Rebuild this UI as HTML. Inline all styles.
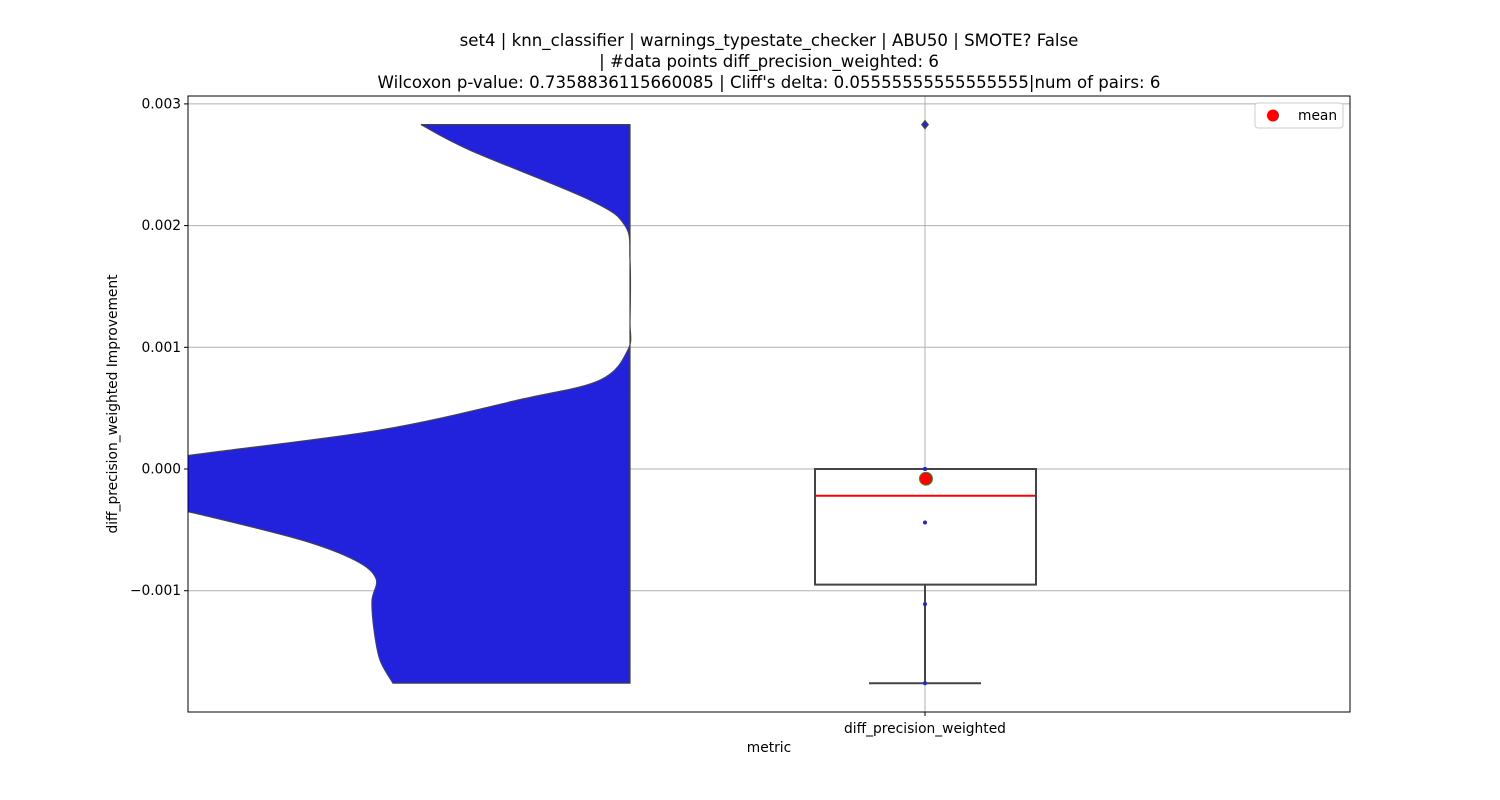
<!DOCTYPE html>
<html><head><meta charset="utf-8"><style>
body{margin:0;background:#fff;}
svg{display:block;font-family:"DejaVu Sans","Liberation Sans",sans-serif;}
</style></head><body>
<svg id="chart" width="1500" height="800">
<rect width="1500" height="800" fill="#fff"/>
<g id="title" font-size="16.6" text-anchor="middle" fill="#000">
<text x="769" y="46">set4 | knn_classifier | warnings_typestate_checker | ABU50 | SMOTE? False</text>
<text x="769" y="67">| #data points diff_precision_weighted: 6</text>
<text x="769" y="88">Wilcoxon p-value: 0.7358836115660085 | Cliff's delta: 0.05555555555555555|num of pairs: 6</text>
</g>
<defs><clipPath id="clip"><rect x="188" y="96" width="1162" height="616"/></clipPath></defs>
<g id="grid"></g>
<g id="plot" clip-path="url(#clip)"></g>
<rect x="188" y="96" width="1162" height="616" fill="none" stroke="#000" stroke-width="1"/>
<g id="yticks" font-size="13.8" text-anchor="end"></g>
<text x="925" y="733" font-size="13.8" text-anchor="middle">diff_precision_weighted</text>
<line x1="925" y1="712" x2="925" y2="716" stroke="#000"/>
<text x="769" y="752" font-size="13.8" text-anchor="middle">metric</text>
<text transform="translate(117,404) rotate(-90)" font-size="13.8" text-anchor="middle">diff_precision_weighted Improvement</text>
<g>
<rect x="1255" y="103" width="88" height="25" rx="3" fill="#fff" stroke="#ccc"/>
<circle cx="1273" cy="115.5" r="6" fill="#ff0000"/>
<text x="1298" y="120" font-size="13.8">mean</text>
</g>
</svg>
<script>
const yTicks=[0.003,0.002,0.001,0,-0.001];
const yTickLabels=["0.003","0.002","0.001","0.000","\u22120.001"];
const points=[0.00283,0,0,-0.00044,-0.00111,-0.00176];
const q1=-0.00095, q3=0, median=-0.00022, whiskerLow=-0.00176, meanVal=-0.00008, outliers=[0.00283];
const violinVals=[0.00283,0.00262,0.00221,0.0020,0.00172,0.00122,0.00098,0.00073,0.00057,0.00032,0.00011,0,-0.00017,-0.00035,-0.00058,-0.00075,-0.0009,-0.00108,-0.00132,-0.00157,-0.00176];
const violinDens=[0.836,0.64,0.16,0.02,0,0,0.008,0.12,0.44,1.0,1.768,2.08,2.16,1.768,1.32,1.1,1.016,1.032,1.024,1.0,0.948];
const NS="http://www.w3.org/2000/svg";
const y=v=>469-v/0.001*121.7;
const dx=d=>630-d*250;
function mk(tag,attrs,parent){const e=document.createElementNS(NS,tag);for(const k in attrs)e.setAttribute(k,attrs[k]);parent.appendChild(e);return e;}
const grid=document.getElementById('grid'),plot=document.getElementById('plot'),yt=document.getElementById('yticks');
yTicks.forEach((t,i)=>{
 const l=mk('line',{x1:188,x2:1350,y1:y(t),y2:y(t),stroke:'#b0b0b0','stroke-width':1},grid);
 
 
 mk('line',{x1:184,x2:188,y1:y(t),y2:y(t),stroke:'#000'},yt);
 const tx=mk('text',{x:181,y:y(t)+4.5},yt);tx.textContent=yTickLabels[i];
 
 
});
const vl=mk('line',{x1:925,x2:925,y1:96,y2:712,stroke:'#b0b0b0'},grid);


const pts=violinVals.map((v,i)=>[dx(violinDens[i]),y(v)]);
let d='M630,'+pts[0][1]+' L'+pts[0][0]+','+pts[0][1];
for(let i=0;i<pts.length-1;i++){
 const p0=pts[Math.max(0,i-1)],p1=pts[i],p2=pts[i+1],p3=pts[Math.min(pts.length-1,i+2)];
 const c1=[p1[0]+(p2[0]-p0[0])/6,p1[1]+(p2[1]-p0[1])/6];
 const c2=[p2[0]-(p3[0]-p1[0])/6,p2[1]-(p3[1]-p1[1])/6];
 d+=` C${c1[0]},${c1[1]} ${c2[0]},${c2[1]} ${p2[0]},${p2[1]}`;
}
d+=' L630,'+pts[pts.length-1][1]+' Z';
const vp=mk('path',{d:d,fill:'#2222dd',stroke:'#444','stroke-width':1.2},plot);


const wl=mk('line',{x1:925,x2:925,y1:y(q1),y2:y(whiskerLow),stroke:'#444','stroke-width':2},plot);


const cap=mk('line',{x1:869,x2:981,y1:y(whiskerLow),y2:y(whiskerLow),stroke:'#444','stroke-width':2},plot);


const box=mk('rect',{x:815,width:221,y:y(q3),height:y(q1)-y(q3),fill:'#fff',stroke:'#444','stroke-width':2},plot);


const med=mk('line',{x1:816,x2:1035,y1:y(median),y2:y(median),stroke:'#ff0000','stroke-width':2},plot);


outliers.forEach(o=>{
 const p=mk('path',{d:`M925,${y(o)-5} L929,${y(o)} L925,${y(o)+5} L921,${y(o)} Z`,fill:'#444'},plot);
 
 
});
points.forEach(p=>{
 const c=mk('circle',{cx:925,cy:y(p),r:2,fill:'#2222dd'},plot);
 
 
});
const m=mk('circle',{cx:926,cy:y(meanVal),r:6.5,fill:'#ff0000',stroke:'#2a9a2a','stroke-width':1},plot);


</script>
</body></html>
